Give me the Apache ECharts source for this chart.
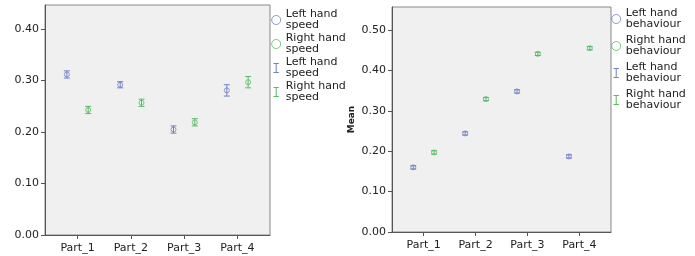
<!DOCTYPE html>
<html>
<head>
<meta charset="utf-8">
<script src="https://cdn.jsdelivr.net/npm/echarts@6/dist/echarts.min.js"></script>
<style>
html, body { margin: 0; padding: 0; background: #fff; }
#main { width: 695px; height: 256px; }
</style>
</head>
<body>
<div id="main"></div>
<script>
// values
var categories = ['Part_1', 'Part_2', 'Part_3', 'Part_4'];
var speedLeftMean = [0.312, 0.292, 0.205, 0.281];
var speedLeftErr = [0.007, 0.006, 0.007, 0.011];
var speedRightMean = [0.243, 0.257, 0.219, 0.297];
var speedRightErr = [0.007, 0.007, 0.007, 0.011];
var behavLeftMean = [0.160, 0.244, 0.348, 0.187];
var behavLeftErr = [0.004, 0.004, 0.004, 0.004];
var behavRightMean = [0.197, 0.329, 0.441, 0.455];
var behavRightErr = [0.004, 0.004, 0.004, 0.004];
var speedTicks = [0, 0.1, 0.2, 0.3, 0.4];
var behavTicks = [0, 0.1, 0.2, 0.3, 0.4, 0.5];

var blue = '#7080c8', green = '#55bb66';
var font = 'DejaVu Sans';
var catPos = [1, 2, 3, 4];

function points(means, errs, shift) {
  return means.map(function (m, i) {
    return [catPos[i] + shift, m, m - errs[i], m + errs[i]];
  });
}

function renderErr(params, api) {
  var x = api.value(0);
  var lo = api.coord([x, api.value(2)]);
  var hi = api.coord([x, api.value(3)]);
  var col = api.visual('color');
  var st = {stroke: col, lineWidth: 1, fill: null};
  return {type: 'group', children: [
    {type: 'line', shape: {x1: lo[0], y1: lo[1], x2: hi[0], y2: hi[1]}, style: st},
    {type: 'line', shape: {x1: lo[0] - 3, y1: lo[1], x2: lo[0] + 3, y2: lo[1]}, style: st},
    {type: 'line', shape: {x1: hi[0] - 3, y1: hi[1], x2: hi[0] + 3, y2: hi[1]}, style: st}
  ]};
}

function xAxis(idx) {
  return {
    type: 'value', gridIndex: idx, min: 0.39, max: 4.61,
    splitLine: {show: false},
    axisLine: {show: true, lineStyle: {color: '#555', width: 1}},
    axisTick: {show: true, length: 4, customValues: catPos, lineStyle: {color: '#555'}},
    axisLabel: {
      customValues: catPos, margin: 8, color: '#222', fontFamily: font, fontSize: 11,
      formatter: function (v) { return categories[Math.round(v) - 1]; }
    }
  };
}

function yAxis(idx, max, ticks, name) {
  return {
    type: 'value', gridIndex: idx, min: 0, max: max,
    name: name, nameLocation: 'middle', nameGap: 36,
    nameTextStyle: {fontFamily: font, fontSize: 9, fontWeight: 'bold', color: '#222'},
    splitLine: {show: false},
    axisLine: {show: true, lineStyle: {color: '#555', width: 1}},
    axisTick: {show: true, length: 4, customValues: ticks, lineStyle: {color: '#555'}},
    axisLabel: {
      customValues: ticks, margin: 6, color: '#222', fontFamily: font, fontSize: 11,
      formatter: function (v) { return v.toFixed(2); }
    }
  };
}

function meanSeries(name, idx, data, col) {
  return {
    name: name, type: 'scatter', xAxisIndex: idx, yAxisIndex: idx,
    symbol: 'circle', symbolSize: 5, data: data,
    itemStyle: {color: 'rgba(0,0,0,0)', borderColor: col, borderWidth: 1},
    encode: {x: 0, y: 1}
  };
}

function errSeries(name, idx, data, col) {
  return {
    name: name, type: 'custom', xAxisIndex: idx, yAxisIndex: idx,
    renderItem: renderErr, data: data, itemStyle: {color: col},
    encode: {x: 0, y: [1, 2, 3]}
  };
}

var barIcon = 'path://M0,0 L6,0 M3,0 L3,10 M0,10 L6,10';

function legend(left, top, gap, names) {
  return {
    orient: 'vertical', left: left, top: top, itemGap: gap,
    itemWidth: 9, itemHeight: 9,
    textStyle: {fontFamily: font, fontSize: 11, color: '#222', lineHeight: 11},
    formatter: function (n) { return n.replace(' (I)', '').replace(/ (\w+)$/, '\n$1'); },
    data: [
      {name: names[0], icon: 'circle', itemStyle: {color: 'rgba(0,0,0,0)', borderColor: blue, borderWidth: 1}},
      {name: names[1], icon: 'circle', itemStyle: {color: 'rgba(0,0,0,0)', borderColor: green, borderWidth: 1}},
      {name: names[0] + ' (I)', icon: barIcon, itemStyle: {color: 'none', borderColor: blue, borderWidth: 1}},
      {name: names[1] + ' (I)', icon: barIcon, itemStyle: {color: 'none', borderColor: green, borderWidth: 1}}
    ]
  };
}

var chart = echarts.init(document.getElementById('main'), null, {renderer: 'canvas'});
chart.setOption({
  animation: false,
  backgroundColor: '#fff',
  grid: [
    {left: 45, top: 5, width: 225, height: 230, show: true, backgroundColor: '#f0f0f0', borderColor: '#888', borderWidth: 1},
    {left: 392, top: 7, width: 219, height: 225, show: true, backgroundColor: '#f0f0f0', borderColor: '#888', borderWidth: 1}
  ],
  legend: [
    legend(266, 4, 2, ['Left hand speed', 'Right hand speed']),
    legend(606, 3, 5, ['Left hand behaviour', 'Right hand behaviour'])
  ],
  xAxis: [xAxis(0), xAxis(1)],
  yAxis: [yAxis(0, 0.447, speedTicks, ''), yAxis(1, 0.557, behavTicks, 'Mean')],
  series: [
    meanSeries('Left hand speed', 0, points(speedLeftMean, speedLeftErr, -0.2), blue),
    meanSeries('Right hand speed', 0, points(speedRightMean, speedRightErr, 0.2), green),
    errSeries('Left hand speed (I)', 0, points(speedLeftMean, speedLeftErr, -0.2), blue),
    errSeries('Right hand speed (I)', 0, points(speedRightMean, speedRightErr, 0.2), green),
    meanSeries('Left hand behaviour', 1, points(behavLeftMean, behavLeftErr, -0.2), blue),
    meanSeries('Right hand behaviour', 1, points(behavRightMean, behavRightErr, 0.2), green),
    errSeries('Left hand behaviour (I)', 1, points(behavLeftMean, behavLeftErr, -0.2), blue),
    errSeries('Right hand behaviour (I)', 1, points(behavRightMean, behavRightErr, 0.2), green)
  ]
});
</script>
</body>
</html>
